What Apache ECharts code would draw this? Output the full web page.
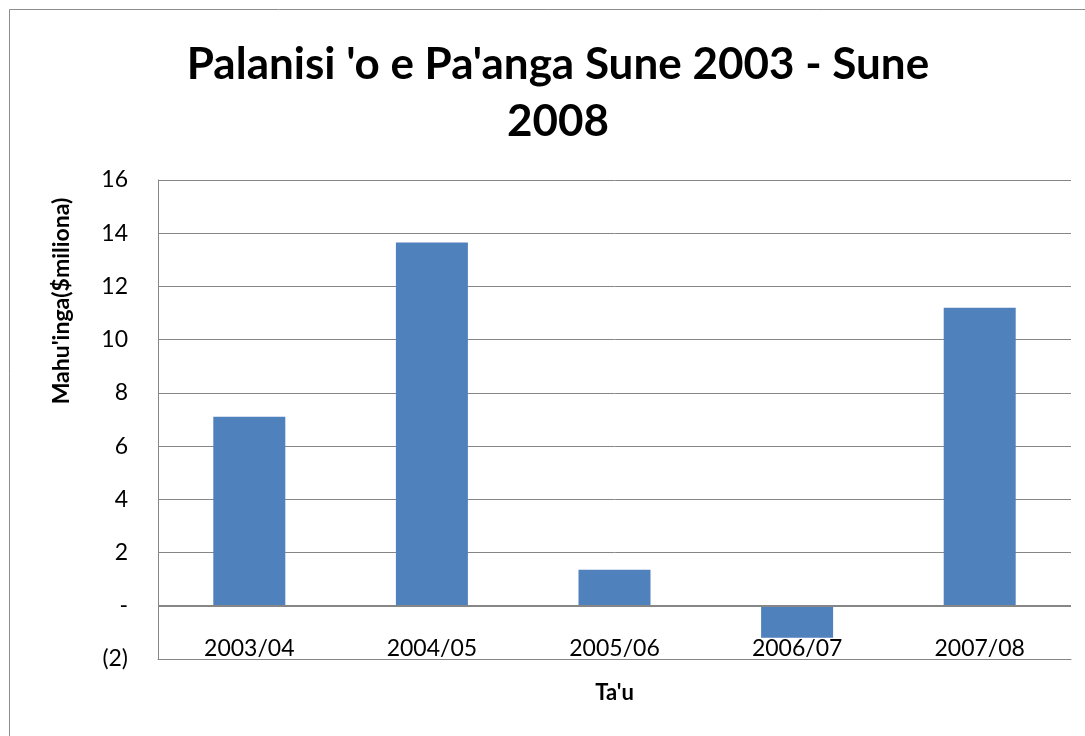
<!DOCTYPE html>
<html>
<head>
<meta charset="utf-8">
<script src="https://cdn.jsdelivr.net/npm/echarts@6/dist/echarts.min.js"></script>
<style>
  html, body { margin: 0; padding: 0; background: #fff; }
  #chart { width: 1085px; height: 736px; }
</style>
</head>
<body>
<div id="chart"></div>
<script>
const years = ['2003/04', '2004/05', '2005/06', '2006/07', '2007/08']
const balance = [7.1, 13.65, 1.35, -1.2, 11.2]

const chart = echarts.init(document.getElementById('chart'))

// excel style: 0 shown as '-', negatives in brackets
const fmtTick = (v) => {
  if (v === 0) return '-'
  if (v < 0) return '(' + Math.abs(v) + ')'
  return String(v)
}

const option = {
  backgroundColor: '#fff',
  animation: false,
  title: {
    text: "Palanisi 'o e Pa'anga Sune 2003 - Sune\n2008",
    left: 553,
    top: 31,
    textAlign: 'center',
    textStyle: {
      fontFamily: 'Lato',
      fontWeight: 'bold',
      fontSize: 44,
      lineHeight: 57,
      color: '#000'
    }
  },
  graphic: [
    {
      type: 'rect',
      shape: { x: 9.5, y: 9.5, width: 1200, height: 900 },
      style: { fill: 'none', stroke: '#8c8c8c', lineWidth: 1 },
      silent: true
    },
    {
      type: 'text',
      x: 62,
      y: 301,
      rotation: Math.PI / 2,
      style: {
        text: "Mahu'inga($miliona)",
        fontFamily: 'Lato',
        fontWeight: 'bold',
        fontSize: 23,
        fill: '#000',
        align: 'center',
        verticalAlign: 'middle'
      }
    }
  ],
  grid: {
    left: 158,
    right: 14,
    top: 180,
    bottom: 77,
    outerBoundsMode: 'none'
  },
  xAxis: {
    type: 'category',
    data: years,
    position: 'bottom',
    name: "Ta'u",
    nameLocation: 'middle',
    nameGap: 23,
    nameTextStyle: {
      fontFamily: 'Lato',
      fontWeight: 'bold',
      fontSize: 22,
      color: '#000'
    },
    axisLine: { show: true, onZero: false, lineStyle: { color: '#868686', width: 1 } },
    axisTick: { show: false },
    axisLabel: {
      margin: -22,
      fontFamily: 'Lato',
      fontSize: 23,
      color: '#000'
    }
  },
  yAxis: {
    type: 'value',
    min: -2,
    max: 16,
    interval: 2,
    axisLine: { show: true, lineStyle: { color: '#868686', width: 1 } },
    axisTick: { show: false },
    axisLabel: {
      formatter: fmtTick,
      margin: 30,
      fontFamily: 'Lato',
      fontSize: 23,
      color: '#000'
    },
    splitLine: { show: true, lineStyle: { color: '#868686', width: 1 } }
  },
  series: [
    {
      type: 'bar',
      data: balance,
      barWidth: 72,
      itemStyle: { color: '#4F81BD' },
      markLine: {
        silent: true,
        symbol: 'none',
        label: { show: false },
        lineStyle: { color: '#868686', width: 2, type: 'solid' },
        data: [{ yAxis: 0 }]
      }
    }
  ]
}

chart.setOption(option)
</script>
</body>
</html>
